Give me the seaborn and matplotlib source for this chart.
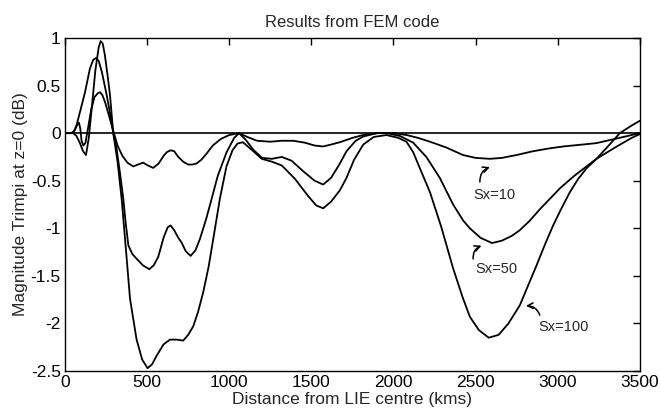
import numpy as np
import pandas as pd
import matplotlib
matplotlib.use("Agg")
import matplotlib.pyplot as plt
import seaborn as sns

# Valores (km, dB)
x_sx10 = [0, 40, 60, 75, 85, 93, 101, 112, 125, 140, 160, 180, 200, 213, 228, 245,
          270, 298, 320, 350, 380, 415, 445, 476, 505, 537, 570, 600, 620, 643, 665,
          690, 720, 750, 775, 800, 830, 860, 900, 950, 1000, 1060, 1110, 1170, 1250,
          1320, 1390, 1460, 1520, 1571, 1620, 1674, 1750, 1814, 1900, 2000, 2080,
          2150, 2222, 2320, 2423, 2500, 2587, 2660, 2749, 2850, 2950, 3033, 3150,
          3235, 3350, 3450, 3500]
y_sx10 = [0, 0.0, 0.03, 0.09, 0.11, 0.05, -0.08, -0.13, -0.1, 0.05, 0.25, 0.38,
          0.42, 0.43, 0.4, 0.32, 0.17, 0.0, -0.13, -0.24, -0.31, -0.35, -0.33,
          -0.31, -0.34, -0.365, -0.32, -0.24, -0.2, -0.18, -0.19, -0.25, -0.3,
          -0.33, -0.33, -0.32, -0.28, -0.22, -0.13, -0.06, -0.02, 0.0, -0.04, -0.08,
          -0.09, -0.08, -0.08, -0.1, -0.13, -0.14, -0.12, -0.095, -0.05, -0.02, 0.0,
          0.0, -0.02, -0.05, -0.09, -0.15, -0.23, -0.26, -0.27, -0.26, -0.23, -0.19,
          -0.16, -0.14, -0.12, -0.105, -0.06, -0.02, 0.0]

x_sx50 = [0, 49, 70, 91, 122, 152, 172, 189, 205, 225, 254, 275, 294, 314, 335, 355,
          370, 386, 410, 436, 475, 513, 540, 568, 600, 625, 643, 665, 690, 710, 735,
          765, 795, 822, 860, 893, 930, 984, 1030, 1060, 1100, 1150, 1200, 1260,
          1320, 1380, 1450, 1520, 1572, 1620, 1670, 1714, 1770, 1816, 1900, 1957,
          2040, 2120, 2200, 2282, 2363, 2425, 2465, 2530, 2600, 2660, 2720, 2769,
          2830, 2891, 2972, 3013, 3100, 3175, 3236, 3350, 3450, 3500]
y_sx50 = [0, 0.0, 0.08, 0.22, 0.43, 0.68, 0.77, 0.79, 0.76, 0.64, 0.4, 0.2, 0.0,
          -0.16, -0.42, -0.69, -0.95, -1.18, -1.27, -1.32, -1.39, -1.43, -1.39,
          -1.3, -1.1, -0.99, -0.97, -1.02, -1.1, -1.15, -1.24, -1.29, -1.23, -1.11,
          -0.9, -0.69, -0.45, -0.2, -0.05, 0.0, -0.07, -0.18, -0.26, -0.27, -0.25,
          -0.29, -0.4, -0.5, -0.54, -0.47, -0.33, -0.19, -0.08, -0.035, 0.0, 0.0,
          -0.03, -0.1, -0.25, -0.47, -0.75, -0.92, -1.0, -1.1, -1.155, -1.13, -1.08,
          -1.02, -0.92, -0.8, -0.655, -0.58, -0.45, -0.35, -0.27, -0.15, -0.05,
          -0.01]

x_sx100 = [0, 50, 70, 90, 110, 128, 145, 165, 185, 205, 217, 230, 243, 260, 274, 294,
           320, 345, 370, 396, 436, 470, 503, 530, 558, 600, 639, 680, 720, 750, 781,
           810, 842, 875, 903, 943, 983, 1020, 1050, 1083, 1140, 1198, 1260, 1320,
           1400, 1480, 1530, 1572, 1620, 1674, 1714, 1760, 1816, 1880, 1957, 2030,
           2079, 2120, 2161, 2222, 2290, 2363, 2420, 2465, 2520, 2580, 2640, 2700,
           2769, 2820, 2871, 2920, 2972, 3020, 3074, 3125, 3175, 3236, 3300, 3378,
           3450, 3500]
y_sx100 = [0, 0.0, -0.03, -0.1, -0.19, -0.23, -0.05, 0.3, 0.66, 0.9, 0.967, 0.94,
           0.82, 0.6, 0.4, 0.0, -0.3, -0.69, -1.2, -1.74, -2.17, -2.38, -2.47,
           -2.43, -2.34, -2.22, -2.17, -2.17, -2.18, -2.12, -2.03, -1.88, -1.67,
           -1.4, -1.11, -0.69, -0.35, -0.18, -0.11, -0.095, -0.18, -0.27, -0.3,
           -0.34, -0.48, -0.66, -0.76, -0.79, -0.72, -0.6, -0.47, -0.28, -0.12,
           -0.04, -0.02, -0.05, -0.09, -0.2, -0.37, -0.62, -0.98, -1.42, -1.72,
           -1.93, -2.07, -2.15, -2.12, -2.0, -1.81, -1.6, -1.39, -1.18, -0.97, -0.8,
           -0.62, -0.48, -0.37, -0.27, -0.15, 0.0, 0.08, 0.13]

x_ticks = [0, 500, 1000, 1500, 2000, 2500, 3000, 3500]
y_ticks = [-2.5, -2, -1.5, -1, -0.5, 0, 0.5, 1]
y_tick_labels = ["-2.5", "-2", "-1.5", "-1", "-0.5", "0", "0.5", "1"]

# Etiquetas de curvas: texto, posicion del texto, cola y punta de la flecha
etiquetas = ["Sx=10", "Sx=50", "Sx=100"]
pos_texto = [(2617, -0.655), (2626, -1.428), (3037, -2.04)]
cola_flecha = [(2526, -0.514), (2485, -1.322), (2891, -1.913)]
punta_flecha = [(2587, -0.356), (2536, -1.182), (2806, -1.815)]
curvatura = [-0.35, -0.35, 0.35]

sns.set_style("white")
plt.rcParams["font.family"] = ["Liberation Sans", "DejaVu Sans"]

fig = plt.figure(figsize=(6.61, 4.18), dpi=100)
ax = fig.add_axes([0.0983, 0.1124, 0.8697, 0.7967])

for xs, ys in [(x_sx10, y_sx10), (x_sx50, y_sx50), (x_sx100, y_sx100)]:
    sns.lineplot(x=xs, y=ys, ax=ax, color="black", linewidth=1.3, sort=False)

ax.axhline(0, color="black", linewidth=1.2)

ax.set_xlim(0, 3500)
ax.set_ylim(-2.5, 1)
ax.set_xticks(x_ticks)
ax.set_xticklabels([str(t) for t in x_ticks])
ax.set_yticks(y_ticks)
ax.set_yticklabels(y_tick_labels)
ax.tick_params(direction="in", length=5, width=1, top=True, right=True,
               labelsize=12.5, colors="black", pad=3)
for s in ax.spines.values():
    s.set_color("black")
    s.set_linewidth(1.0)

ax.set_title("Results from FEM code", fontsize=12, pad=8)
ax.set_xlabel("Distance from LIE centre (kms)", fontsize=12.5, labelpad=1)
ax.set_ylabel("Magnitude Trimpi at z=0 (dB)", fontsize=12.5, labelpad=2)

for txt, pt, cola, punta, rad in zip(etiquetas, pos_texto, cola_flecha, punta_flecha, curvatura):
    ax.text(pt[0], pt[1], txt, fontsize=10.5, ha="center", va="center")
    ax.annotate("", xy=punta, xytext=cola,
                arrowprops=dict(arrowstyle="->", color="black", lw=1.1,
                                connectionstyle=f"arc3,rad={rad}",
                                shrinkA=0, shrinkB=0, mutation_scale=10))

plt.savefig("out.png", dpi=100)
